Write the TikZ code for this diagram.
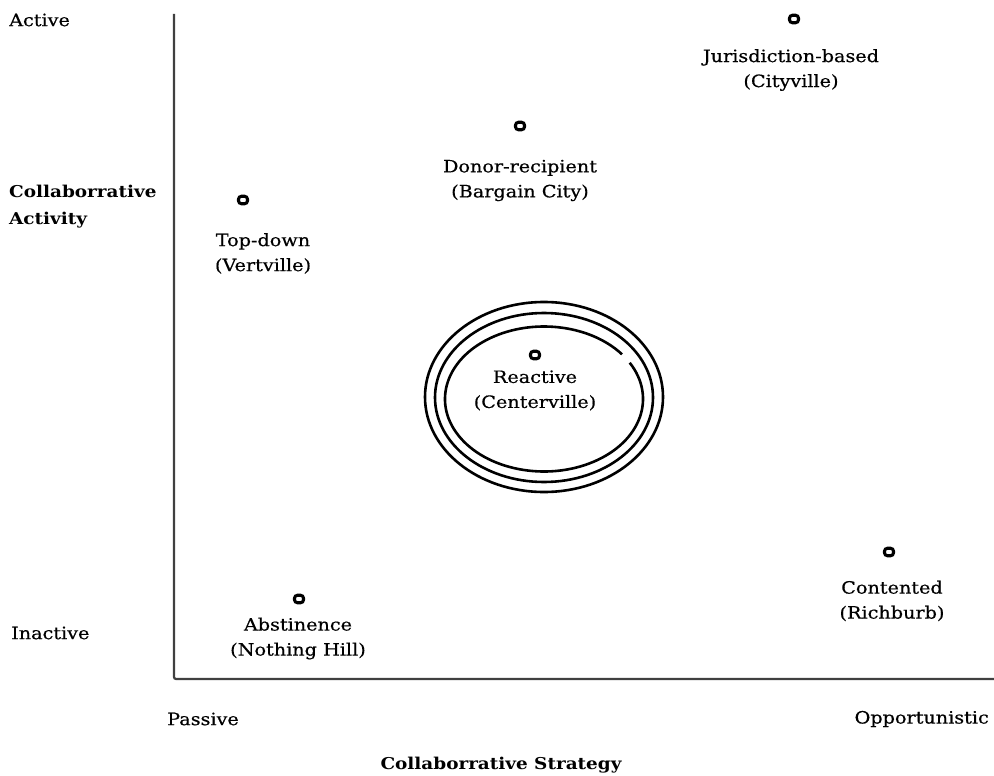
\documentclass[tikz,border=0pt]{standalone}
\usepackage{fontspec}
\setmainfont{DejaVu Serif}[FakeStretch=1.13,UprightFeatures={FakeBold=0.5}]
\begin{document}
\begin{tikzpicture}[x=1pt,y=-1pt,
  marker/.style={draw=black,line width=3.1pt,rounded corners=3pt,minimum width=9pt,minimum height=7.5pt,inner sep=0pt},
  lbl/.style={align=center,font=\fontsize{17}{25}\selectfont,inner sep=0pt},
  axislbl/.style={font=\fontsize{17}{20}\selectfont,inner sep=0pt},
  title/.style={font=\fontsize{16.3}{27}\selectfont\bfseries,inner sep=0pt,align=left},
  ring/.style={line width=2.6pt}]
\useasboundingbox (0,0) rectangle (994,776);
\fill[white] (0,0) rectangle (994,776);

% axes
\coordinate (ytop) at (174,14);
\coordinate (origin) at (174,679);
\coordinate (xend) at (994,679);
\draw[line width=2.2pt,draw=black!75,rounded corners=2pt] (ytop) -- (origin) -- (xend);

% axis labels
\node[axislbl,anchor=west] (active) at (9,20) {Active};
\node[axislbl,anchor=west] (inactive) at (11,633) {Inactive};
\node[axislbl,anchor=west] (passive) at (167,719) {Passive};
\node[axislbl,anchor=east] (opport) at (989,719) {Opportunistic};
\node[title,anchor=west] (yaxis) at (9,207) {Collaborrative\\Activity};
\node[title] (xaxis) at (501,765) {Collaborrative Strategy};

% concentric rings round the reactive type; the inner one is left open at the upper right
\draw[ring] (544,397) ellipse [x radius=119, y radius=95];
\draw[ring] (544,397.5) ellipse [x radius=109, y radius=84.5];
\draw[ring] (544,399) ++(-30:99 and 72.5) arc [start angle=-30, end angle=322, x radius=99, y radius=72.5];

% city types
\node[marker] (jur) at (794,19) {};
\node[lbl] (jurl) at (791,70) {Jurisdiction-based\\(Cityville)};

\node[marker] (don) at (520,126) {};
\node[lbl] (donl) at (520,180.5) {Donor-recipient\\(Bargain City)};

\node[marker] (topd) at (243,200) {};
\node[lbl] (topl) at (263,253.5) {Top-down\\(Vertville)};

\node[marker] (rea) at (535,355) {};
\node[lbl] (real) at (535,390.5) {Reactive\\(Centerville)};

\node[marker] (con) at (889,552) {};
\node[lbl] (conl) at (892,601) {Contented\\(Richburb)};

\node[marker] (abs) at (299,599) {};
\node[lbl] (absl) at (298,638.5) {Abstinence\\(Nothing Hill)};
\end{tikzpicture}
\end{document}
